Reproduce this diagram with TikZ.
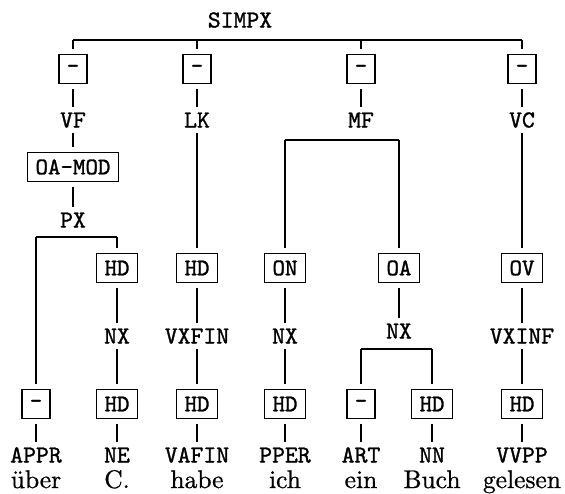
\documentclass[tikz,border=0pt]{standalone}
\usepackage{graphicx}
\usepackage{fontspec}
\newfontfamily\scantt{lmmono10-regular.otf}[FakeBold=1.2]
\newfontfamily\scanrm{lmroman10-regular.otf}[FakeBold=0.8]
\newcommand\mylab[1]{\scalebox{2.45}{\fontsize{10}{12}\selectfont\scantt #1}}
\newcommand\mybox[1]{\scalebox{2.38}{\fontsize{10}{12}\selectfont\scantt #1}}
\newcommand\myword[1]{\scalebox{2.55}{\fontsize{10}{12}\selectfont\scanrm #1}}
\begin{document}
\begin{tikzpicture}[x=1pt,y=-1pt,
  lab/.style={inner sep=0pt, text height=15pt, text depth=0pt},
  word/.style={inner sep=0pt, anchor=base},
  fbox/.style={draw, line width=1.9pt, minimum height=29pt, minimum width=27pt, inner xsep=8pt, inner ysep=0pt},
  con/.style={line width=1.5pt, shorten <=5pt, shorten >=5pt},
  bar/.style={line width=1.5pt},
]
\useasboundingbox (0,0) rectangle (565,493);
% labels and boxes
\node[lab] (simpx) at (240,20) {\mylab{SIMPX}};
\node[fbox] (d1) at (73,69) {\mybox{-}};
\node[fbox] (d2) at (197,69) {\mybox{-}};
\node[fbox] (d3) at (361,69) {\mybox{-}};
\node[fbox] (d4) at (522,69) {\mybox{-}};
\node[lab] (vf) at (73,120) {\mylab{VF}};
\node[lab] (lk) at (197,120) {\mylab{LK}};
\node[lab] (mf) at (361,120) {\mylab{MF}};
\node[lab] (vc) at (522,120) {\mylab{VC}};
\node[fbox] (oamod) at (73,167) {\mybox{OA-MOD}};
\node[lab] (px) at (73,220) {\mylab{PX}};
\node[fbox] (hd1) at (117,268) {\mybox{HD}};
\node[fbox] (hd2) at (197,268) {\mybox{HD}};
\node[fbox] (on) at (285,268) {\mybox{ON}};
\node[fbox] (oa) at (399,268) {\mybox{OA}};
\node[fbox] (ov) at (522,268) {\mybox{OV}};
\node[lab] (nx1) at (117,336) {\mylab{NX}};
\node[lab] (vxfin) at (197,336) {\mylab{VXFIN}};
\node[lab] (nx2) at (285,336) {\mylab{NX}};
\node[lab] (nx3) at (399,331) {\mylab{NX}};
\node[lab] (vxinf) at (522,336) {\mylab{VXINF}};
\node[fbox] (m1) at (36,404) {\mybox{-}};
\node[fbox] (h1) at (117,404) {\mybox{HD}};
\node[fbox] (h2) at (197,404) {\mybox{HD}};
\node[fbox] (h3) at (285,404) {\mybox{HD}};
\node[fbox] (m2) at (361,404) {\mybox{-}};
\node[fbox] (h4) at (432,404) {\mybox{HD}};
\node[fbox] (h5) at (522,404) {\mybox{HD}};
\node[lab] (p1) at (36,455) {\mylab{APPR}};
\node[lab] (p2) at (117,455) {\mylab{NE}};
\node[lab] (p3) at (197,455) {\mylab{VAFIN}};
\node[lab] (p4) at (285,455) {\mylab{PPER}};
\node[lab] (p5) at (361,455) {\mylab{ART}};
\node[lab] (p6) at (432,455) {\mylab{NN}};
\node[lab] (p7) at (522,455) {\mylab{VVPP}};
\node[word] (w1) at (36,488) {\myword{über}};
\node[word] (w2) at (117,488) {\myword{C.}};
\node[word] (w3) at (197,488) {\myword{habe}};
\node[word] (w4) at (285,488) {\myword{ich}};
\node[word] (w5) at (361,488) {\myword{ein}};
\node[word] (w6) at (432,488) {\myword{Buch}};
\node[word] (w7) at (522,488) {\myword{gelesen}};
% bracket coordinates
\coordinate (t1) at (73,40);
\coordinate (t2) at (197,40);
\coordinate (t3) at (361,40);
\coordinate (t4) at (522,40);
\coordinate (pxl) at (36,237);
\coordinate (pxr) at (117,237);
\coordinate (mfl) at (285,140);
\coordinate (mfr) at (399,140);
\coordinate (nxl) at (361,349);
\coordinate (nxr) at (432,349);
% connectors
\draw[bar] (t1) -- (t4);
\draw[con, shorten <=0pt] (t1) -- (d1);
\draw[con, shorten <=0pt] (t2) -- (d2);
\draw[con, shorten <=0pt] (t3) -- (d3);
\draw[con, shorten <=0pt] (t4) -- (d4);
\draw[con] (d1) -- (vf);
\draw[con] (d2) -- (lk);
\draw[con] (d3) -- (mf);
\draw[con] (d4) -- (vc);
\draw[con] (vf) -- (oamod);
\draw[con] (oamod) -- (px);
\draw[bar] (pxl) -- (pxr);
\draw[con, shorten <=0pt] (pxl) -- (m1);
\draw[con, shorten <=0pt] (pxr) -- (hd1);
\draw[con] (lk) -- (hd2);
\draw[bar] (mfl) -- (mfr);
\draw[con, shorten <=0pt] (mfl) -- (on);
\draw[con, shorten <=0pt] (mfr) -- (oa);
\draw[con] (vc) -- (ov);
\draw[con] (hd1) -- (nx1);
\draw[con] (nx1) -- (h1);
\draw[con] (h1) -- (p2);
\draw[con] (m1) -- (p1);
\draw[con] (hd2) -- (vxfin);
\draw[con] (vxfin) -- (h2);
\draw[con] (h2) -- (p3);
\draw[con] (on) -- (nx2);
\draw[con] (nx2) -- (h3);
\draw[con] (h3) -- (p4);
\draw[con] (oa) -- (nx3);
\draw[bar] (nxl) -- (nxr);
\draw[con, shorten <=0pt] (nxl) -- (m2);
\draw[con, shorten <=0pt] (nxr) -- (h4);
\draw[con] (m2) -- (p5);
\draw[con] (h4) -- (p6);
\draw[con] (ov) -- (vxinf);
\draw[con] (vxinf) -- (h5);
\draw[con] (h5) -- (p7);
\end{tikzpicture}
\end{document}
